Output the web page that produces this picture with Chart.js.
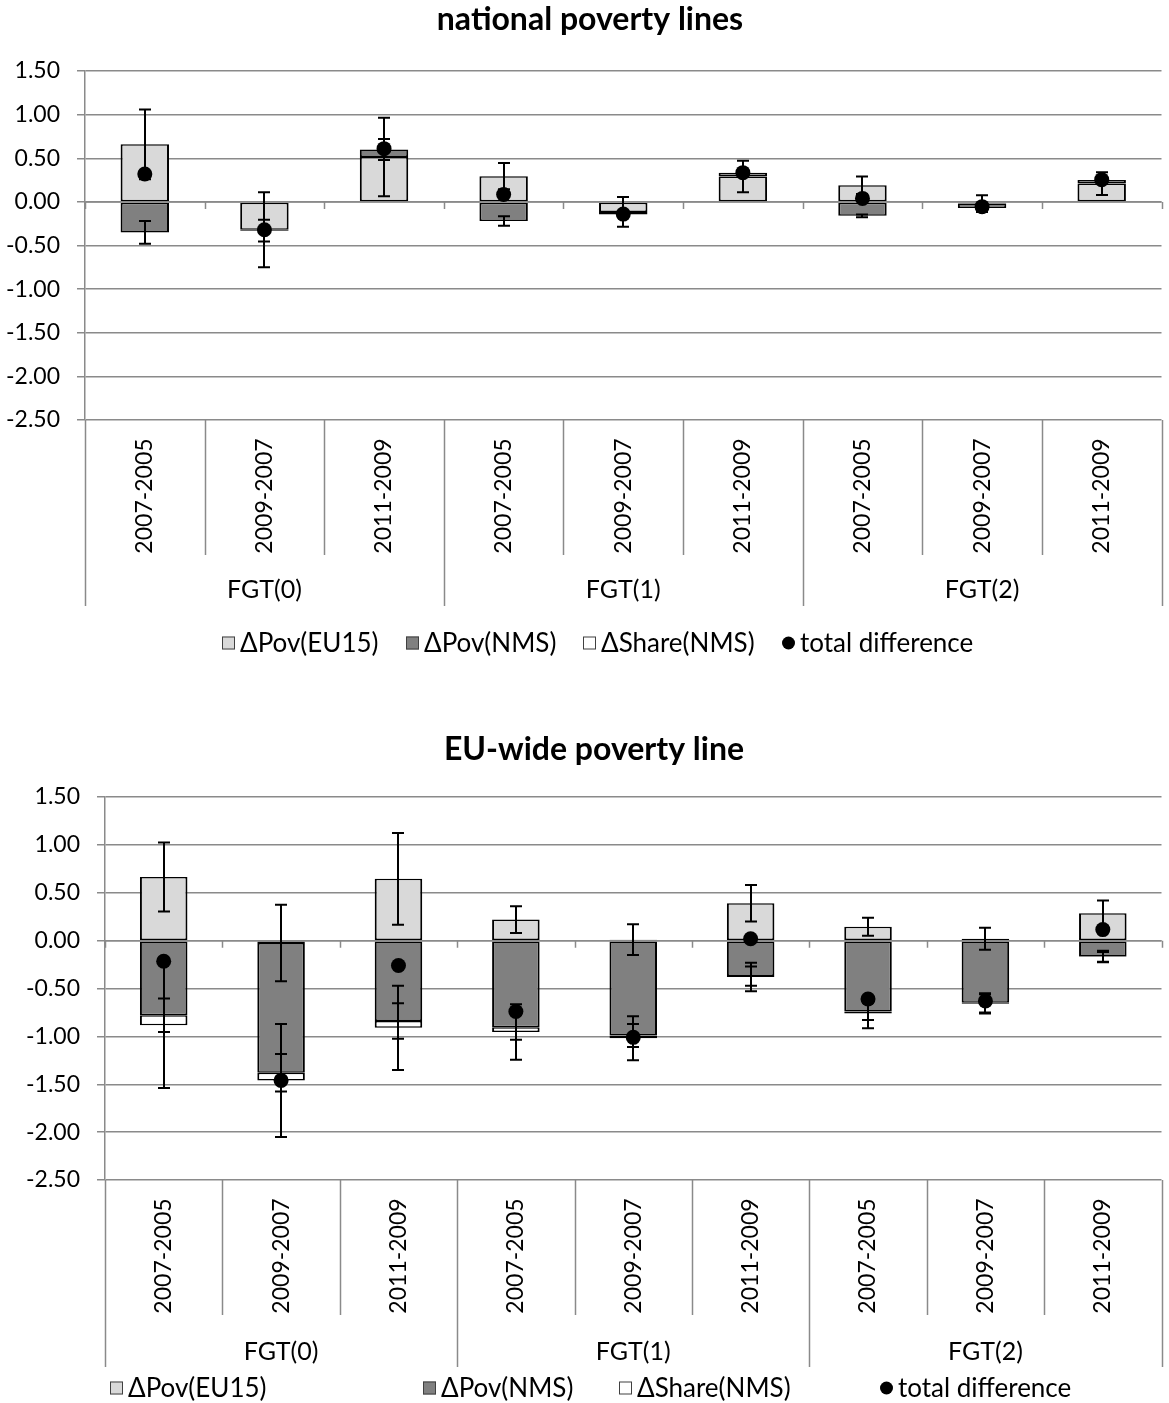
<!DOCTYPE html>
<html>
<head>
<meta charset="utf-8">
<script src="https://cdn.jsdelivr.net/npm/chart.js@4"></script>
<style>
  html, body { margin: 0; padding: 0; background: #fff; }
  canvas { display: block; }
</style>
</head>
<body>
<canvas id="natChart" width="1169" height="700"></canvas>
<canvas id="euChart" width="1169" height="703"></canvas>
<script>
// categories
const periods = ['2007-2005', '2009-2007', '2011-2009',
                 '2007-2005', '2009-2007', '2011-2009',
                 '2007-2005', '2009-2007', '2011-2009'];
const groups = ['FGT(0)', 'FGT(1)', 'FGT(2)'];
const yTickValues = [-2.5, -2, -1.5, -1, -0.5, 0, 0.5, 1, 1.5];

// national poverty lines
const natEU15 = [0.66, -0.32, 0.515, 0.295, -0.115, 0.29, 0.19, -0.02, 0.21];
const natNMS = [-0.35, -0.01, 0.085, -0.22, -0.03, 0.045, -0.16, -0.05, 0.04];
const natShare = [0, -0.005, 0, 0, 0, 0, 0, 0, 0];
const natTotal = [0.32, -0.32, 0.61, 0.085, -0.14, 0.335, 0.04, -0.055, 0.255];
const natErrEU15 = [0.40, 0.43, 0.45, 0.15, 0.17, 0.18, 0.10, 0.095, 0.13];
const natErrNMS = [0.13, 0.125, 0.12, 0.055, 0.03, 0.03, 0.015, 0.03, 0.02];
const natErrShare = [0, 0, 0, 0, 0, 0, 0, 0, 0];

// EU-wide poverty line
const euEU15 = [0.665, -0.025, 0.645, 0.22, 0.01, 0.39, 0.145, 0.02, 0.285];
const euNMS = [-0.78, -1.355, -0.84, -0.905, -0.99, -0.37, -0.74, -0.65, -0.165];
const euShare = [-0.105, -0.08, -0.07, -0.05, -0.03, -0.01, -0.02, -0.01, -0.005];
const euTotal = [-0.215, -1.46, -0.26, -0.74, -1.01, 0.02, -0.61, -0.63, 0.115];
const euErrEU15 = [0.36, 0.40, 0.48, 0.14, 0.16, 0.19, 0.095, 0.115, 0.135];
const euErrNMS = [0.175, 0.195, 0.185, 0.13, 0.12, 0.10, 0.09, 0.10, 0.06];
const euErrShare = [0.655, 0.59, 0.44, 0.29, 0.23, 0.15, 0.155, 0.10, 0.05];

const FONT = 'Lato, "Open Sans", sans-serif';
const GRID = '#8a8a8a';
Chart.defaults.font.family = FONT;
Chart.defaults.font.size = 23;
Chart.defaults.color = '#000';

const legendItems = [
  { label: 'ΔPov(EU15)', fill: '#d9d9d9', dot: false },
  { label: 'ΔPov(NMS)', fill: '#808080', dot: false },
  { label: 'ΔShare(NMS)', fill: '#ffffff', dot: false },
  { label: 'total difference', fill: '#000', dot: true }
];

// draws the Excel-like extras: title, zero axis, error bars, two-level category axis, legend
function excelLayer(cfg) {
  return {
    id: 'excelLayer',
    beforeDatasetDraw(chart, args) {
      if (args.meta.type !== 'line') return;
      const ctx = chart.ctx;
      const x = chart.scales.x, y = chart.scales.y;
      const area = chart.chartArea;
      // category axis line at zero, drawn over the bars
      const y0 = y.getPixelForValue(0);
      ctx.save();
      ctx.strokeStyle = GRID;
      ctx.lineWidth = 1.5;
      ctx.beginPath();
      ctx.moveTo(area.left, y0);
      ctx.lineTo(area.right, y0);
      for (let i = 0; i <= periods.length; i++) {
        const xb = Math.round(x.getPixelForValue(i - 0.5)) + 0.5;
        ctx.moveTo(xb, y0);
        ctx.lineTo(xb, y0 + 7);
      }
      ctx.stroke();
      // error bars at the stacked end of every bar segment
      ctx.strokeStyle = '#000';
      ctx.lineWidth = 2;
      chart.data.datasets.forEach((ds, di) => {
        if (!ds.errors) return;
        const meta = chart.getDatasetMeta(di);
        meta.data.forEach((bar, j) => {
          const err = ds.errors[j];
          if (!err) return;
          const end = y.getValueForPixel(bar.y);
          const top = y.getPixelForValue(end + err);
          const bot = y.getPixelForValue(end - err);
          const cx = Math.round(bar.x);
          ctx.beginPath();
          ctx.moveTo(cx, top);
          ctx.lineTo(cx, bot);
          ctx.moveTo(cx - 6, top);
          ctx.lineTo(cx + 6, top);
          ctx.moveTo(cx - 6, bot);
          ctx.lineTo(cx + 6, bot);
          ctx.stroke();
        });
      });
      ctx.restore();
    },
    afterDraw(chart) {
      const ctx = chart.ctx;
      const x = chart.scales.x;
      const area = chart.chartArea;
      ctx.save();
      // title
      ctx.fillStyle = '#000';
      ctx.font = 'bold 32px ' + FONT;
      ctx.textAlign = 'center';
      ctx.textBaseline = 'middle';
      ctx.fillText(cfg.title, cfg.titleX, cfg.titleY);
      // category separators
      ctx.strokeStyle = GRID;
      ctx.lineWidth = 1.5;
      ctx.beginPath();
      for (let i = 0; i <= periods.length; i++) {
        const xb = Math.round(x.getPixelForValue(i - 0.5)) + 0.5;
        ctx.moveTo(xb, area.bottom);
        ctx.lineTo(xb, i % 3 === 0 ? cfg.groupEnd : cfg.innerEnd);
      }
      ctx.stroke();
      // rotated period labels
      ctx.font = '23px ' + FONT;
      periods.forEach((p, j) => {
        ctx.save();
        ctx.translate(x.getPixelForValue(j), cfg.labelY);
        ctx.rotate(-Math.PI / 2);
        ctx.fillText(p, 0, 0);
        ctx.restore();
      });
      // group labels
      ctx.font = '25px ' + FONT;
      groups.forEach((g, k) => {
        const cx = (x.getPixelForValue(k * 3 - 0.5) + x.getPixelForValue(k * 3 + 2.5)) / 2;
        ctx.fillText(g, cx, cfg.groupY);
      });
      // legend
      ctx.font = '26px ' + FONT;
      ctx.textAlign = 'left';
      const widths = legendItems.map(it => 18 + ctx.measureText(it.label).width);
      let starts = cfg.legendX;
      if (!Array.isArray(starts)) {
        const gap = (starts.to - starts.from - widths.reduce((a, b) => a + b, 0)) / (widths.length - 1);
        let pos = starts.from;
        starts = widths.map(w => { const s = pos; pos += w + gap; return s; });
      }
      legendItems.forEach((it, k) => {
        const lx = Math.round(starts[k]);
        const ly = cfg.legendY;
        if (it.dot) {
          ctx.fillStyle = '#000';
          ctx.beginPath();
          ctx.arc(lx + 6.5, ly, 6.5, 0, Math.PI * 2);
          ctx.fill();
        } else {
          ctx.fillStyle = it.fill;
          ctx.fillRect(lx, ly - 6.5, 13, 13);
          ctx.strokeStyle = '#404040';
          ctx.lineWidth = 1;
          ctx.strokeRect(lx + 0.5, ly - 6, 12, 12);
        }
        ctx.fillStyle = '#000';
        ctx.fillText(it.label, lx + 18, ly + 1);
      });
      ctx.restore();
    }
  };
}

function makeChart(id, eu15, nms, share, total, errs, cfg) {
  const barCommon = {
    borderColor: '#000',
    borderWidth: { left: 2, right: 2, top: 1.5, bottom: 1.5 },
    borderSkipped: false,
    barPercentage: 0.405,
    categoryPercentage: 1.0,
    order: 1
  };
  return new Chart(document.getElementById(id), {
    type: 'bar',
    data: {
      labels: periods,
      datasets: [
        Object.assign({ label: 'ΔPov(EU15)', data: eu15, backgroundColor: '#d9d9d9', errors: errs[0] }, barCommon),
        Object.assign({ label: 'ΔPov(NMS)', data: nms, backgroundColor: '#808080', errors: errs[1] }, barCommon),
        Object.assign({ label: 'ΔShare(NMS)', data: share, backgroundColor: '#ffffff', errors: errs[2] }, barCommon),
        {
          type: 'line',
          label: 'total difference',
          data: total,
          stack: 'total',
          showLine: false,
          pointRadius: cfg.dotR,
          pointBackgroundColor: '#000',
          pointBorderWidth: 0,
          borderColor: '#000',
          order: 0
        }
      ]
    },
    options: {
      responsive: false,
      animation: false,
      layout: { padding: cfg.padding },
      plugins: { legend: { display: false }, title: { display: false }, tooltip: { enabled: false } },
      scales: {
        x: { stacked: true, display: false },
        y: {
          stacked: true,
          min: yTickValues[0],
          max: yTickValues[yTickValues.length - 1],
          afterBuildTicks: s => { s.ticks = yTickValues.map(v => ({ value: v })); },
          afterFit: s => { s.width = cfg.axisW; },
          grid: { color: GRID, lineWidth: 1.5, tickLength: 8 },
          border: { color: GRID, width: 1.5 },
          ticks: { padding: 17, color: '#000', font: { size: 23 }, callback: v => v.toFixed(2) }
        }
      }
    },
    plugins: [excelLayer(cfg)]
  });
}

makeChart('natChart', natEU15, natNMS, natShare, natTotal,
  [natErrEU15, natErrNMS, natErrShare], {
    title: 'national poverty lines', titleX: 590, titleY: 20,
    padding: { top: 71, bottom: 280, left: 0, right: 3 }, axisW: 85,
    dotR: 7.5,
    labelY: 496, innerEnd: 555, groupEnd: 606, groupY: 590,
    legendY: 643, legendX: { from: 222, to: 973 }
  });

makeChart('euChart', euEU15, euNMS, euShare, euTotal,
  [euErrEU15, euErrNMS, euErrShare], {
    title: 'EU-wide poverty line', titleX: 594, titleY: 50,
    padding: { top: 97, bottom: 223, left: 0, right: 3 }, axisW: 105,
    dotR: 7.5,
    labelY: 556, innerEnd: 615, groupEnd: 667, groupY: 652,
    legendY: 688, legendX: [110, 423, 619, 880]
  });
</script>
</body>
</html>
